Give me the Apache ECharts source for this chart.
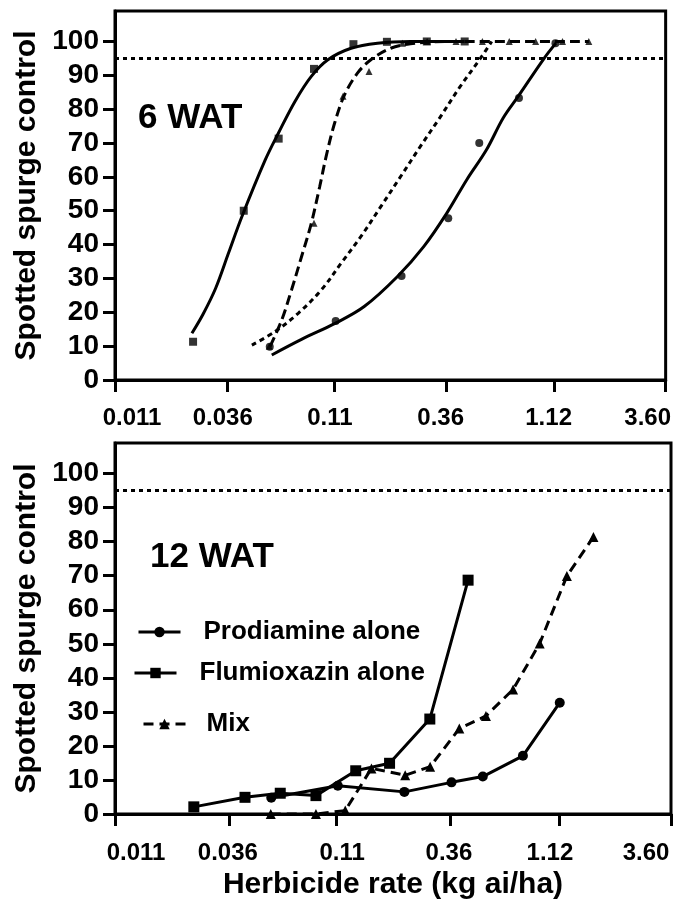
<!DOCTYPE html>
<html><head><meta charset="utf-8">
<script src="https://cdn.jsdelivr.net/npm/echarts@6/dist/echarts.min.js"></script>
<style>html,body{margin:0;padding:0;background:#fff}#c{width:674px;height:903px}</style>
</head><body><div id="c"></div>
<script>
// ---- axis ticks ----
const xTicks = [0.011, 0.036, 0.11, 0.36, 1.12, 3.6];
const xTickLabels = ['0.011', '0.036', '0.11', '0.36', '1.12', '3.60'];
const yTicks = [0, 10, 20, 30, 40, 50, 60, 70, 80, 90, 100];

// ---- herbicide rates (kg ai/ha) ----
const prodiamineRates = [0.056, 0.112, 0.224, 0.366, 0.507, 0.77, 1.13];
const flumioxazinRates = [0.025, 0.0426, 0.0615, 0.0892, 0.135, 0.192, 0.292, 0.435];
const mixRates = [0.0557, 0.0892, 0.121, 0.159, 0.226, 0.293, 0.397, 0.524, 0.695, 0.917, 1.217, 1.605];

// ---- 6 WAT observed control (%) ----
const prodiamine6 = [9.8, 17.4, 30.7, 47.8, 70.0, 83.3, 99.5];
const flumioxazin6 = [11.3, 50.0, 71.3, 91.9, 99.2, 99.9, 100, 100];
const mix6 = [10, 46.3, 83.8, 91.1, 99.5, 100, 100, 100, 100, 100, 100, 100];

// ---- 6 WAT fitted curves ----
const flumioxazinFitRates = [0.0247, 0.0278, 0.0317, 0.0363, 0.0418, 0.0534, 0.0613, 0.0730, 0.0867, 0.1032, 0.1317, 0.1738, 0.246, 0.435];
const flumioxazinFit = [13.8, 19.5, 27.1, 37.5, 48.3, 65.0, 72.9, 82.3, 89.7, 94.6, 98.0, 99.5, 100, 100];
const mixFitRates = [0.0562, 0.0635, 0.0704, 0.0782, 0.0867, 0.0946, 0.1017, 0.1108, 0.1229, 0.1411, 0.1622, 0.1997, 0.246, 0.355, 1.605];
const mixFit = [9.9, 17.7, 26.6, 36.4, 46.3, 57.0, 66.5, 75.9, 84.2, 90.7, 94.6, 98.0, 99.3, 100, 100];
const dottedFitRates = [0.0464, 0.0592, 0.0755, 0.0963, 0.1186, 0.1461, 0.180, 0.2218, 0.273, 0.335, 0.413, 0.513, 0.578];
const dottedFit = [10.3, 14.3, 19.7, 26.6, 34.5, 42.4, 51.2, 60.1, 69.0, 77.5, 86.5, 95.0, 100];
const prodiamineFitRates = [0.0572, 0.0782, 0.1119, 0.1512, 0.214, 0.2827, 0.3605, 0.444, 0.547, 0.652, 0.762, 1.005, 1.136];
const prodiamineFit = [7.4, 12.0, 16.8, 21.7, 30.5, 39.4, 49.3, 59.1, 68.0, 77.4, 83.7, 95.1, 99.5];

// ---- 12 WAT observed control (%) ----
const prodiamine12 = [4.8, 8.3, 6.5, 9.3, 11.0, 17.1, 32.7];
const flumioxazin12 = [2.1, 4.9, 6.1, 5.4, 12.7, 14.9, 27.9, 68.7];
const mix12 = [0, 0, 1.0, 13.4, 11.4, 13.9, 25.1, 28.8, 36.6, 50.1, 69.9, 81.4];

const targetLine = 95;

const zip = (xs, ys) => xs.map((x, i) => [x, ys[i]]);
const FONT = '"Liberation Sans", Arial, Helvetica, sans-serif';
const BLACK = '#000';

function makeRich(offsets) {
  const rich = {};
  offsets.forEach((o, i) => {
    rich['t' + i] = {
      fontSize: 24, fontWeight: 'bold', fontFamily: FONT, color: BLACK,
      padding: o >= 0 ? [0, 0, 0, 2 * o] : [0, -2 * o, 0, 0]
    };
  });
  return rich;
}

function xAxisCfg(gridIndex, offsets, margin, withName) {
  const cfg = {
    type: 'log', logBase: 10, gridIndex: gridIndex, min: 0.011, max: 3.6,
    axisLine: { show: true, onZero: false, lineStyle: { color: BLACK, width: 3 } },
    axisTick: { show: true, length: 12, customValues: xTicks, lineStyle: { color: BLACK, width: 3 } },
    minorTick: { show: false },
    splitLine: { show: false },
    minorSplitLine: { show: false },
    axisLabel: {
      customValues: xTicks, margin: margin,
      fontSize: 24, fontWeight: 'bold', fontFamily: FONT, color: BLACK,
      formatter: function (v) {
        let idx = 0, best = Infinity;
        xTicks.forEach((t, i) => { const d = Math.abs(Math.log(t) - Math.log(v)); if (d < best) { best = d; idx = i; } });
        return '{t' + idx + '|' + xTickLabels[idx] + '}';
      },
      rich: makeRich(offsets)
    }
  };
  if (withName) {
    cfg.name = 'Herbicide rate (kg ai/ha)';
    cfg.nameLocation = 'middle';
    cfg.nameGap = 56;
    cfg.nameTextStyle = { fontSize: 30, fontWeight: 'bold', fontFamily: FONT, color: BLACK };
  }
  return cfg;
}

function yAxisCfg(gridIndex) {
  return {
    type: 'value', gridIndex: gridIndex, min: 0, max: 109,
    name: 'Spotted spurge control', nameLocation: 'middle', nameGap: 72, nameRotate: 90,
    nameTextStyle: { fontSize: 30, fontWeight: 'bold', fontFamily: FONT, color: BLACK },
    axisLine: { show: true, lineStyle: { color: BLACK, width: 3 } },
    axisTick: { show: true, length: 12, customValues: yTicks, lineStyle: { color: BLACK, width: 3 } },
    splitLine: { show: false },
    axisLabel: { customValues: yTicks, margin: 16, fontSize: 28, fontWeight: 'bold', fontFamily: FONT, color: BLACK }
  };
}

const refLine = {
  silent: true, symbol: ['none', 'none'], label: { show: false },
  lineStyle: { color: BLACK, width: 3, type: [4, 4] },
  data: [{ yAxis: targetLine }]
};

function curve(name, rates, vals, dash) {
  return {
    name: name, type: 'line', xAxisIndex: 0, yAxisIndex: 0,
    data: zip(rates, vals), smooth: 0.35, showSymbol: false, symbol: 'none',
    lineStyle: { color: BLACK, width: 3, type: dash }, silent: true, z: 2
  };
}
function points(name, rates, vals, symbol, size) {
  return {
    name: name, type: 'scatter', xAxisIndex: 0, yAxisIndex: 0,
    data: zip(rates, vals), symbol: symbol, symbolSize: size,
    itemStyle: { color: BLACK }, z: 3
  };
}
function obsLine(name, rates, vals, symbol, size, dash) {
  return {
    name: name, type: 'line', xAxisIndex: 1, yAxisIndex: 1,
    data: zip(rates, vals), symbol: symbol, symbolSize: size, showSymbol: true,
    lineStyle: { color: BLACK, width: 3, type: dash },
    itemStyle: { color: BLACK, borderWidth: 0 }, z: 3
  };
}

function legendCfg(name, left, top, pad) {
  return {
    data: [name], left: left, top: top, orient: 'vertical',
    itemWidth: 42, itemHeight: 13, selectedMode: false, padding: 0,
    lineStyle: { width: 3 },
    formatter: '{a|' + name + '}',
    textStyle: {
      color: BLACK,
      rich: { a: { fontSize: 26, fontWeight: 'bold', fontFamily: FONT, color: BLACK, padding: [0, 0, 0, pad] } }
    }
  };
}

const chart = echarts.init(document.getElementById('c'), null, { renderer: 'canvas' });
chart.setOption({
  backgroundColor: '#fff',
  animation: false,
  grid: [
    { left: 115, right: 3, top: 11, height: 369, show: true, borderColor: BLACK, borderWidth: 3, backgroundColor: 'transparent' },
    { left: 115, right: 3, top: 443, height: 371, show: true, borderColor: BLACK, borderWidth: 3, backgroundColor: 'transparent' }
  ],
  xAxis: [
    xAxisCfg(0, [17, -5, -4, -6, -6, -18], 26, false),
    xAxisCfg(1, [21, -1, 6, -1, -9, -25], 27, true)
  ],
  yAxis: [yAxisCfg(0), yAxisCfg(1)],
  legend: [
    legendCfg('Prodiamine alone', 137, 619, 18),
    legendCfg('Flumioxazin alone', 133, 660, 18),
    legendCfg('Mix', 142, 711, 16)
  ],
  graphic: [
    { type: 'text', x: 138, y: 118, style: { text: '6 WAT', fontSize: 35, fontWeight: 'bold', fontFamily: FONT, fill: BLACK, verticalAlign: 'middle' } },
    { type: 'text', x: 150, y: 557, style: { text: '12 WAT', fontSize: 35, fontWeight: 'bold', fontFamily: FONT, fill: BLACK, verticalAlign: 'middle' } }
  ],
  series: [
    Object.assign(curve('Flumioxazin fit 6 WAT', flumioxazinFitRates, flumioxazinFit, 'solid'), { markLine: refLine }),
    curve('Mix fit 6 WAT', mixFitRates, mixFit, [10, 5]),
    curve('Expected 6 WAT', dottedFitRates, dottedFit, [5, 4]),
    curve('Prodiamine fit 6 WAT', prodiamineFitRates, prodiamineFit, 'solid'),
    points('Flumioxazin 6 WAT', flumioxazinRates, flumioxazin6, 'rect', 8),
    points('Prodiamine 6 WAT', prodiamineRates, prodiamine6, 'circle', 8),
    points('Mix 6 WAT', mixRates, mix6, 'triangle', 7),
    Object.assign(obsLine('Prodiamine alone', prodiamineRates, prodiamine12, 'circle', 10, 'solid'), { markLine: refLine }),
    obsLine('Flumioxazin alone', flumioxazinRates, flumioxazin12, 'rect', 11, 'solid'),
    obsLine('Mix', mixRates, mix12, 'triangle', 10, [10, 6])
  ]
});
</script></body></html>
